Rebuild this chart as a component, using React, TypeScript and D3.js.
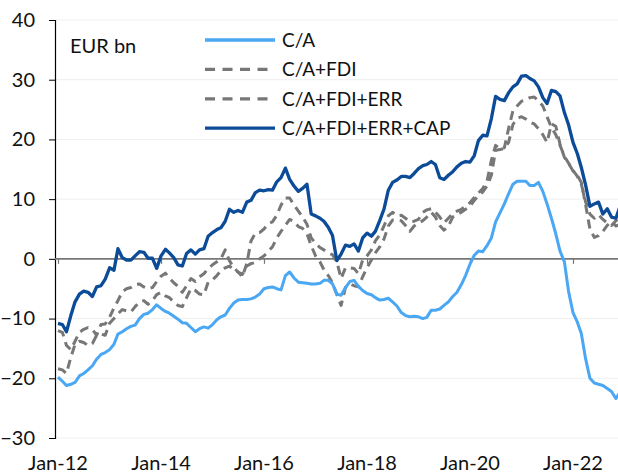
import * as d3 from 'd3';
import { useEffect, useRef } from 'react';

// monthly, Jan-12 .. Dec-22
const months = d3.timeMonth.range(new Date(2012, 0, 1), new Date(2023, 0, 1));

const ca = [
  -19.8, -20.5, -21.2, -21.0, -20.7, -19.6, -19.2, -18.6, -17.9, -16.8,
  -16.0, -15.7, -15.2, -14.3, -12.6, -12.2, -11.7, -11.3, -11.1, -10.0,
  -9.3, -9.1, -8.5, -7.7, -8.3, -8.8, -9.1, -9.6, -10.1, -10.7,
  -10.8, -11.5, -12.2, -11.7, -11.4, -11.6, -11.0, -10.2, -9.7, -9.4,
  -8.3, -7.4, -6.9, -6.8, -6.8, -6.7, -6.4, -5.9, -5.0, -4.8,
  -4.7, -5.0, -5.2, -2.8, -2.2, -3.2, -3.9, -4.0, -4.1, -4.2,
  -4.2, -4.1, -3.6, -3.6, -4.2, -5.9, -6.1, -4.8, -3.8, -3.6,
  -4.6, -5.3, -5.8, -6.0, -6.5, -6.9, -6.8, -6.6, -7.2, -7.9,
  -9.0, -9.5, -9.7, -9.6, -9.7, -10.0, -9.8, -8.6, -8.6, -8.4,
  -7.8, -7.2, -6.3, -5.6, -4.3, -2.8, -0.9, 0.6, 1.3, 1.2,
  2.2, 3.5, 6.2, 7.7, 9.2, 10.9, 12.5, 13.0, 13.0, 13.0,
  12.3, 12.3, 12.8, 11.3, 9.2, 6.8, 4.2, 1.3, -0.5, -5.5,
  -9.0, -10.6, -12.5, -16.8, -20.0, -20.8, -21.0, -21.2, -21.7, -22.2,
  -23.4, -22.3,
];

const caFdi = [
  -18.4, -18.6, -19.2, -16.5, -14.3, -13.8, -14.0, -14.5, -14.2, -12.8,
  -12.6, -12.8, -10.8, -10.0, -9.2, -8.5, -8.7, -8.9, -8.0, -7.2,
  -7.0, -7.6, -7.0, -6.0, -5.6, -6.2, -6.5, -7.2, -7.8, -8.0,
  -6.5, -5.0, -5.3, -5.9, -6.0, -3.9, -3.5, -2.8, -2.0, -1.5,
  -1.2, -1.8, -2.2, -2.6, -1.2, -0.8, -0.6, 0.0, 0.5, 1.3,
  2.0, 3.5, 4.6, 5.6, 6.6, 6.3, 5.4, 5.1, 4.2, 2.2,
  0.5, -0.5, -1.8, -2.8, -4.0, -6.0, -7.8, -4.8, -4.2, -4.5,
  -4.7, -3.0, -1.5, -0.2, 1.0, 2.0, 3.3, 5.5, 6.5, 6.5,
  6.4, 5.6, 4.6, 5.5, 6.0, 6.4, 7.0, 7.8, 7.0, 5.6,
  4.8, 5.5, 7.0, 7.4, 7.8, 8.3, 8.8, 9.8, 10.6, 11.2,
  12.2, 14.0, 18.2, 18.3, 18.5, 19.5, 22.5, 23.5, 23.8, 23.4,
  22.9, 22.6, 21.8, 20.8, 19.5, 22.6, 22.2, 19.2, 17.0, 16.0,
  14.7, 14.0, 12.8, 9.0, 5.0, 3.6, 3.9, 4.6, 5.6, 6.3,
  5.5, 5.8,
];

const caFdiErr = [
  -12.0, -12.3, -14.5, -15.2, -13.8, -12.3, -11.8, -11.5, -11.8, -12.8,
  -11.0, -10.9, -9.8, -8.2, -7.0, -5.5, -5.0, -4.8, -4.3, -4.2,
  -4.7, -5.0, -4.8, -3.8, -2.9, -2.4, -3.2, -4.0, -4.6, -5.6,
  -4.5, -3.3, -3.8, -3.0, -2.5, -1.6, -1.0, -0.5, 0.0, 1.5,
  -0.3, -1.5, -2.2, -3.0, -0.8, 3.0, 4.3, 4.4, 5.0, 5.9,
  6.2, 7.3, 9.0, 10.2, 10.2, 9.0, 8.0, 7.0, 5.8, 3.5,
  2.6, 1.9, 1.5, 1.0, 0.7, -0.5, -3.3, -1.5, -1.5, -1.6,
  -2.5, -0.2, 0.5, 1.5, 3.0, 4.0, 5.5, 7.2, 7.8, 7.2,
  7.3, 6.8, 6.2, 6.3, 6.6, 7.8, 8.2, 8.4, 7.8, 7.0,
  6.0, 6.8, 7.6, 8.0, 8.3, 8.8, 9.4, 10.3, 11.0, 11.8,
  13.0, 16.5, 19.0, 18.4, 18.6, 21.8, 24.8, 25.6, 26.4, 26.6,
  27.0, 27.1, 26.5, 25.6, 23.8, 22.0, 20.8, 19.0, 17.2, 16.0,
  14.8, 13.8, 12.5, 9.5, 7.5, 6.8, 7.4, 6.6, 6.0, 5.6,
  6.4, 6.8,
];

const caFdiErrCap = [
  -10.8, -11.0, -12.2, -9.5, -7.2, -5.9, -5.4, -5.6, -6.3, -4.7,
  -4.5, -3.4, -1.5, -1.9, 1.7, 0.2, -0.2, -0.2, 0.5, 1.2,
  1.1, 0.1, 0.1, -1.6, 0.5, 1.6, 1.0, 0.2, -1.0, -1.2,
  0.9, 1.5, 0.8, 1.5, 1.7, 3.8, 4.4, 4.9, 5.2, 6.3,
  8.3, 7.8, 8.1, 7.8, 9.5, 9.8, 11.1, 11.5, 11.4, 11.6,
  11.5, 12.9, 13.6, 15.2, 13.3, 12.2, 11.3, 11.8, 12.5, 7.5,
  7.2, 6.8, 6.3, 5.3, 3.9, -0.3, 0.8, 2.3, 2.1, 2.5,
  1.3, 3.5, 4.3, 3.8, 4.6, 6.4, 8.3, 11.5, 12.8, 13.2,
  13.8, 13.8, 13.6, 14.3, 15.1, 15.6, 15.8, 16.3, 15.8, 13.6,
  13.3, 14.0, 14.6, 15.4, 16.0, 16.3, 16.2, 17.3, 19.8, 20.7,
  20.6, 23.5, 27.2, 26.7, 26.5, 27.8, 28.8, 29.3, 30.6, 30.7,
  30.2, 29.8, 28.8, 27.0, 26.0, 28.2, 28.0, 27.3, 24.5, 22.4,
  19.5, 17.6, 15.3, 12.3, 8.8, 9.2, 9.5, 7.5, 8.4, 7.0,
  6.8, 8.8,
];

const seriesNames = ['C/A', 'C/A+FDI', 'C/A+FDI+ERR', 'C/A+FDI+ERR+CAP'];
const yTicks = [40, 30, 20, 10, 0, -10, -20, -30];
const xTickLabels = ['Jan-12', 'Jan-14', 'Jan-16', 'Jan-18', 'Jan-20', 'Jan-22'];

const W = 618, H = 476;
const LIGHT = '#4aa7f3';
const DARK = '#0b4b98';
const GREY = '#777777';
const FONT = 'Lato, "Liberation Sans", sans-serif';

export default function App() {
  const ref = useRef<SVGSVGElement>(null);

  useEffect(() => {
    const svg = d3.select(ref.current);
    svg.selectAll('*').remove();

    const x = d3.scaleTime()
      .domain([new Date(2012, 0, 1), new Date(2022, 0, 1)])
      .range([58, 573]);
    const y = d3.scaleLinear().domain([-30, 40]).range([438, 20]);
    const left = 55;

    // light grid
    svg.append('g').selectAll('line')
      .data(yTicks.filter(d => d !== 0))
      .enter().append('line')
      .attr('x1', left).attr('x2', W)
      .attr('y1', d => y(d)).attr('y2', d => y(d))
      .attr('stroke', '#efefef').attr('stroke-width', 1);

    // y axis
    const yAxis = svg.append('g').attr('transform', `translate(${left},0)`)
      .call(d3.axisLeft(y).tickValues(yTicks).tickSize(6).tickPadding(14));
    yAxis.select('.domain').attr('stroke', '#000').attr('stroke-width', 1.2);
    yAxis.selectAll('.tick line').attr('stroke', '#000');
    yAxis.selectAll('.tick text')
      .attr('font-family', FONT).attr('font-size', 20).attr('fill', '#111');

    // zero line with x ticks
    const tickDates = xTickLabels.map((_, i) => new Date(2012 + i * 2, 0, 1));
    const xAxis = svg.append('g').attr('transform', `translate(0,${y(0)})`)
      .call(d3.axisBottom(x).tickValues(tickDates).tickSize(5).tickFormat(() => ''));
    xAxis.select('.domain').remove();
    xAxis.selectAll('.tick line').attr('stroke', GREY).attr('stroke-width', 1.2);
    svg.append('line')
      .attr('x1', left).attr('x2', W)
      .attr('y1', y(0)).attr('y2', y(0))
      .attr('stroke', GREY).attr('stroke-width', 1.8);

    // x labels at the bottom
    svg.append('g').selectAll('text')
      .data(tickDates)
      .enter().append('text')
      .attr('x', d => x(d)).attr('y', 470)
      .attr('text-anchor', 'middle')
      .attr('font-family', FONT).attr('font-size', 20).attr('fill', '#111')
      .text((_, i) => xTickLabels[i]);

    const line = d3.line<number>()
      .x((_, i) => x(months[i]))
      .y(d => y(d));

    const series = [
      { values: caFdi, color: GREY, dash: '9 6', width: 3 },
      { values: caFdiErr, color: GREY, dash: '9 6', width: 3 },
      { values: ca, color: LIGHT, dash: null, width: 3 },
      { values: caFdiErrCap, color: DARK, dash: null, width: 3.3 },
    ];
    series.forEach(s => {
      svg.append('path')
        .datum(s.values)
        .attr('d', line)
        .attr('fill', 'none')
        .attr('stroke', s.color)
        .attr('stroke-width', s.width)
        .attr('stroke-linejoin', 'round')
        .attr('stroke-dasharray', s.dash);
    });

    // unit label
    svg.append('text')
      .attr('x', 70).attr('y', 53)
      .attr('font-family', FONT).attr('font-size', 20).attr('fill', '#111')
      .text('EUR bn');

    // legend
    const legendStyles = [
      { color: LIGHT, dash: null },
      { color: GREY, dash: '10 7.5' },
      { color: GREY, dash: '10 7.5' },
      { color: DARK, dash: null },
    ];
    const lg = svg.append('g');
    seriesNames.forEach((name, i) => {
      const ly = 40 + i * 29.4;
      lg.append('line')
        .attr('x1', 205).attr('x2', 275)
        .attr('y1', ly).attr('y2', ly)
        .attr('stroke', legendStyles[i].color)
        .attr('stroke-width', 3.3)
        .attr('stroke-dasharray', legendStyles[i].dash);
      lg.append('text')
        .attr('x', 282).attr('y', ly + 7)
        .attr('font-family', FONT).attr('font-size', 19).attr('fill', '#111')
        .text(name);
    });
  }, []);

  return (
    <div style={{ position: 'absolute', left: 0, top: 0 }}>
      <svg ref={ref} width={W} height={H} style={{ display: 'block', background: '#fff' }}></svg>
    </div>
  );
}
